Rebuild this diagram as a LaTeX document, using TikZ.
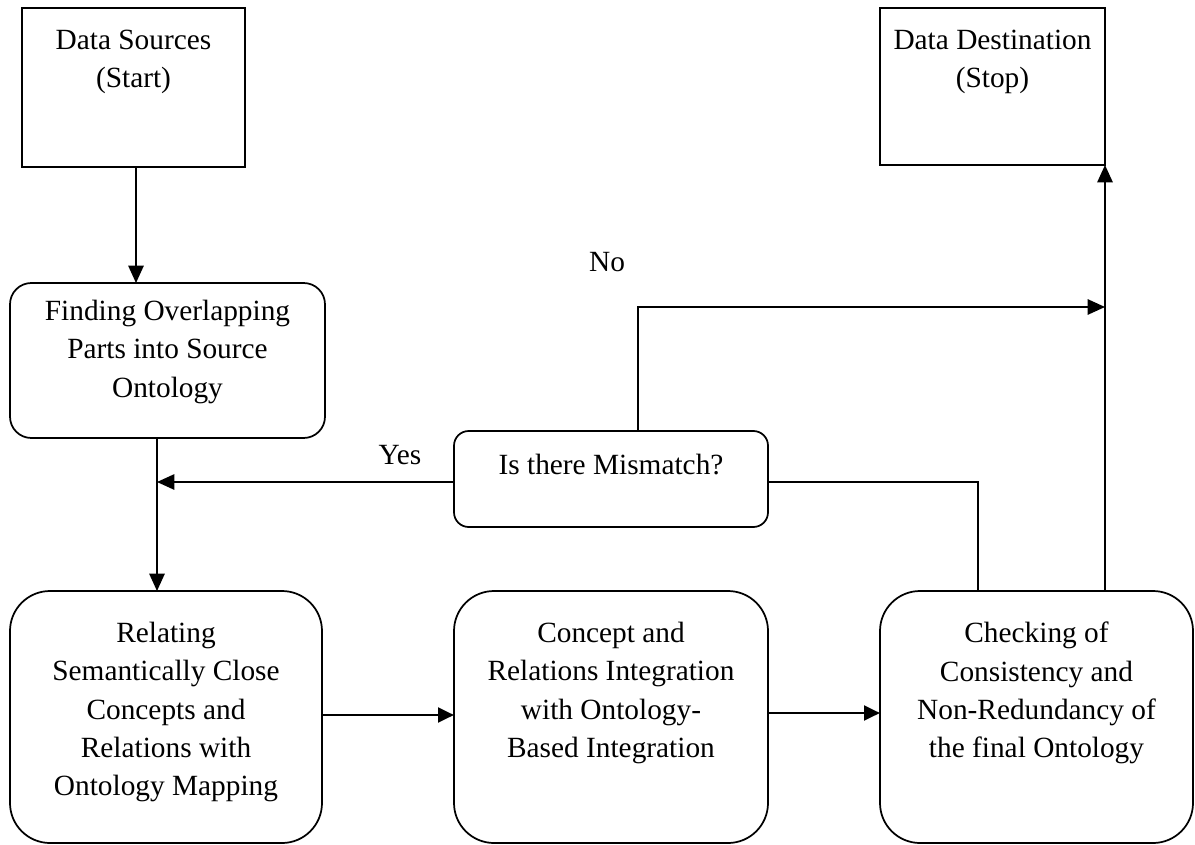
\documentclass[tikz,border=0pt]{standalone}
\usepackage{fontspec}
\setmainfont{Liberation Serif}
\usetikzlibrary{arrows.meta}
\begin{document}
\begin{tikzpicture}[x=0.75pt,y=-0.75pt,
  every node/.style={inner sep=0pt,outer sep=0pt},
  box/.style={draw,line width=1.3pt},
  rbox/.style={draw,line width=1.3pt,rounded corners=#1},
  txt/.style={anchor=north,align=center,font=\fontsize{22}{28.8}\selectfont},
  lbl/.style={font=\fontsize{22}{24}\selectfont},
  conn/.style={line width=1.3pt},
  flow/.style={line width=1.3pt,-{Triangle[length=13pt,width=11.5pt]}},
  thick flow/.style={line width=2.2pt,-{Triangle[length=12pt,width=11pt]}}]
\useasboundingbox (0,0) rectangle (1195,845);

% process boxes
\node[box,minimum width=223*0.75pt,minimum height=159*0.75pt] (src) at (133.5,87.5) {};
\node[box,minimum width=225*0.75pt,minimum height=157*0.75pt] (dst) at (992.5,86.5) {};
\node[rbox=16pt,minimum width=315*0.75pt,minimum height=155*0.75pt] (find) at (167.5,360.5) {};
\node[rbox=11pt,minimum width=314*0.75pt,minimum height=96*0.75pt] (mis) at (611,479) {};
\node[rbox=30pt,minimum width=312*0.75pt,minimum height=252*0.75pt] (rel) at (166,717) {};
\node[rbox=30pt,minimum width=314*0.75pt,minimum height=252*0.75pt] (con) at (611,717) {};
\node[rbox=30pt,minimum width=313*0.75pt,minimum height=252*0.75pt] (chk) at (1036.5,717) {};

% box texts
\node[txt] (srct) at ([yshift=-22*0.75pt]src.north) {Data Sources\\(Start)};
\node[txt] (dstt) at ([yshift=-22*0.75pt]dst.north) {Data Destination\\(Stop)};
\node[txt] (findt) at ([yshift=-17*0.75pt]find.north) {Finding Overlapping\\Parts into Source\\Ontology};
\node[txt] (mist) at ([yshift=-23*0.75pt]mis.north) {Is there Mismatch?};
\node[txt] (relt) at ([yshift=-31*0.75pt]rel.north) {Relating\\Semantically Close\\Concepts and\\Relations with\\Ontology Mapping};
\node[txt] (cont) at ([yshift=-31*0.75pt]con.north) {Concept and\\Relations Integration\\with Ontology-\\Based Integration};
\node[txt] (chkt) at ([yshift=-31*0.75pt]chk.north) {Checking of\\Consistency and\\Non-Redundancy of\\the final Ontology};

% junction points
\coordinate (yesj) at (157,482);
\coordinate (noj) at (1105,307);

% connectors
\draw[flow] (src.south -| 136,0) -- (find.north -| 136,0);
\draw[flow] (find.south -| yesj) -- (rel.north -| yesj);
\draw[flow] (mis.west |- yesj) -- (yesj);
\draw[flow] (mis.north -| 638,0) |- (noj);
\draw[conn] (mis.east |- yesj) -| (chk.north -| 978,0);
\draw[flow] (chk.north -| noj) -- (dst.south -| noj);
\draw[thick flow] (rel.east |- 0,715) -- (con.west |- 0,715);
\draw[thick flow] (con.east |- 0,713) -- (chk.west |- 0,713);

% branch labels
\node[lbl] (yes) at (400,455) {Yes};
\node[lbl] (no) at (607,262) {No};
\end{tikzpicture}
\end{document}
